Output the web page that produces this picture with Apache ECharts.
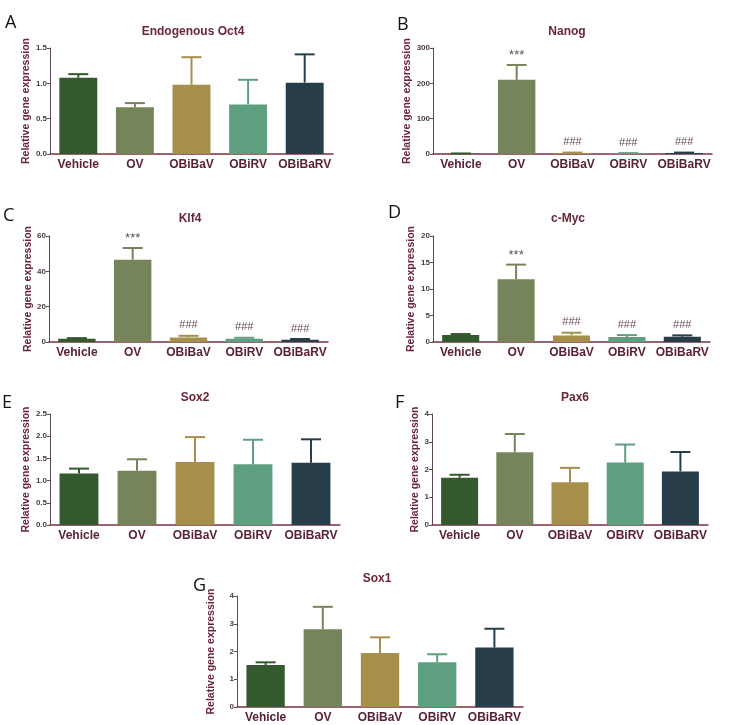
<!DOCTYPE html>
<html>
<head>
<meta charset="utf-8">
<script src="https://cdn.jsdelivr.net/npm/echarts@6/dist/echarts.min.js"></script>
<style>
html,body{margin:0;padding:0;background:#fff;}
#chart{width:730px;height:725px;}
</style>
</head>
<body>
<div id="chart"></div>
<script>
// ---- data ----
const categories = ["Vehicle", "OV", "OBiBaV", "OBiRV", "OBiBaRV"];

const oct4Mean = [1.08, 0.66, 0.98, 0.70, 1.01];
const oct4Sem  = [0.05, 0.06, 0.39, 0.35, 0.40];

const nanogMean = [1, 210, 3, 2, 3];
const nanogSem  = [0.5, 42, 1, 0.5, 1];

const klf4Mean = [1.9, 46.6, 2.6, 1.9, 1.3];
const klf4Sem  = [0.3, 6.6, 0.9, 0.5, 0.4];

const cmycMean = [1.3, 11.85, 1.25, 0.94, 1.0];
const cmycSem  = [0.2, 2.75, 0.5, 0.36, 0.25];

const sox2Mean = [1.16, 1.22, 1.42, 1.37, 1.40];
const sox2Sem  = [0.11, 0.26, 0.56, 0.55, 0.53];

const pax6Mean = [1.70, 2.62, 1.54, 2.25, 1.93];
const pax6Sem  = [0.11, 0.66, 0.52, 0.65, 0.70];

const sox1Mean = [1.51, 2.80, 1.95, 1.61, 2.14];
const sox1Sem  = [0.10, 0.81, 0.56, 0.29, 0.68];

const sigMarks = ["", "***", "###", "###", "###"];
const noMarks  = ["", "", "", "", ""];

const panelLetters = ["A", "B", "C", "D", "E", "F", "G"];
const panelTitles  = ["Endogenous Oct4", "Nanog", "Klf4", "c-Myc", "Sox2", "Pax6", "Sox1"];

const yMax      = [1.5, 300, 60, 20, 2.5, 4, 4];
const yInterval = [0.5, 100, 20, 5, 0.5, 1, 1];
const yDecimals = [1, 0, 0, 0, 1, 0, 0];

// ---- layout / style ----
const palette = ["#35592f", "#76845a", "#a68f4a", "#5e9f80", "#283d4a"];
const grids = [
  {left: 50,  top: 48,  width: 283, height: 106},
  {left: 433, top: 48,  width: 279, height: 106},
  {left: 49,  top: 236, width: 279, height: 106},
  {left: 433, top: 236, width: 277, height: 106},
  {left: 50,  top: 414, width: 290, height: 111},
  {left: 432, top: 414, width: 276, height: 111},
  {left: 237, top: 596, width: 286, height: 111}
];
const nameGaps = [17, 16, 15, 16, 16, 11, 20];
const letterPos = [[5, 14], [397, 16], [3, 207], [388, 204], [2, 394], [395, 394], [193, 577]];
const titleCenter = [[193, 33], [567, 33], [190, 220], [568, 220], [195, 399], [575, 399], [377, 580]];

const panels = [
  [oct4Mean, oct4Sem, noMarks],
  [nanogMean, nanogSem, sigMarks],
  [klf4Mean, klf4Sem, sigMarks],
  [cmycMean, cmycSem, sigMarks],
  [sox2Mean, sox2Sem, noMarks],
  [pax6Mean, pax6Sem, noMarks],
  [sox1Mean, sox1Sem, noMarks]
];

const maroon = "#6a2636";
const font = "'Liberation Sans', Arial, sans-serif";

const option = {
  backgroundColor: "#ffffff",
  animation: false,
  grid: grids.map(g => Object.assign({containLabel: false}, g)),
  title: [],
  xAxis: [],
  yAxis: [],
  series: []
};

panels.forEach((p, i) => {
  option.title.push({
    text: panelTitles[i],
    left: titleCenter[i][0],
    top: titleCenter[i][1] - 7,
    padding: 0,
    textAlign: "center",
    textStyle: {fontFamily: font, fontWeight: "bold", fontSize: 12, color: maroon}
  });
  option.title.push({
    text: panelLetters[i],
    left: letterPos[i][0],
    top: letterPos[i][1],
    padding: 0,
    textStyle: {fontFamily: "'Open Sans', 'DejaVu Sans', sans-serif", fontWeight: "normal", fontSize: 18, color: "#111"}
  });
  option.xAxis.push({
    type: "category",
    gridIndex: i,
    data: categories,
    axisLine: {lineStyle: {color: "#7a3040", width: 1.5}},
    axisTick: {show: false},
    axisLabel: {fontFamily: font, fontWeight: "bold", fontSize: 12, color: "#5a2232", margin: 5, interval: 0}
  });
  const dec = yDecimals[i];
  option.yAxis.push({
    type: "value",
    gridIndex: i,
    min: 0,
    max: yMax[i],
    interval: yInterval[i],
    name: "Relative gene expression",
    nameLocation: "middle",
    nameGap: nameGaps[i],
    nameTextStyle: {fontFamily: font, fontWeight: "bold", fontSize: 10.5, color: maroon},
    splitLine: {show: false},
    axisLine: {show: true, lineStyle: {color: "#5a4a58", width: 1}},
    axisTick: {show: true, length: 3, lineStyle: {color: "#5a4a58"}},
    axisLabel: {fontFamily: font, fontWeight: "bold", fontSize: 8, color: "#4a3a44", margin: 3,
      formatter: v => Number(v).toFixed(dec)}
  });
  const means = p[0], sems = p[1], marks = p[2];
  option.series.push({
    type: "bar",
    xAxisIndex: i,
    yAxisIndex: i,
    barWidth: "67%",
    data: means.map((v, k) => ({value: v, itemStyle: {color: palette[k]}})),
    silent: true
  });
  option.series.push({
    type: "custom",
    xAxisIndex: i,
    yAxisIndex: i,
    silent: true,
    data: means.map((v, k) => [k, v, sems[k]]),
    renderItem: function (params, api) {
      const k = api.value(0);
      const m = api.value(1);
      const s = api.value(2);
      const mark = marks[k];
      const base = api.coord([k, m]);
      const top = api.coord([k, m + s]);
      const col = palette[k];
      const half = 10;
      const children = [
        {type: "line", shape: {x1: base[0], y1: base[1], x2: top[0], y2: top[1]}, style: {stroke: col, lineWidth: 2}},
        {type: "line", shape: {x1: top[0] - half, y1: top[1], x2: top[0] + half, y2: top[1]}, style: {stroke: col, lineWidth: 2}}
      ];
      if (mark) {
        const isStar = mark.indexOf("*") >= 0;
        children.push({
          type: "text",
          x: top[0],
          y: top[1] - (isStar ? 3 : 5),
          style: {
            text: mark,
            textAlign: "center",
            textVerticalAlign: "bottom",
            fontFamily: font,
            fontSize: isStar ? 13 : 11,
            fontWeight: "normal",
            fill: isStar ? "#555" : "#6a4a52"
          }
        });
      }
      return {type: "group", children: children};
    }
  });
});

const chart = echarts.init(document.getElementById("chart"), null, {renderer: "canvas"});
chart.setOption(option);
</script>
</body>
</html>
